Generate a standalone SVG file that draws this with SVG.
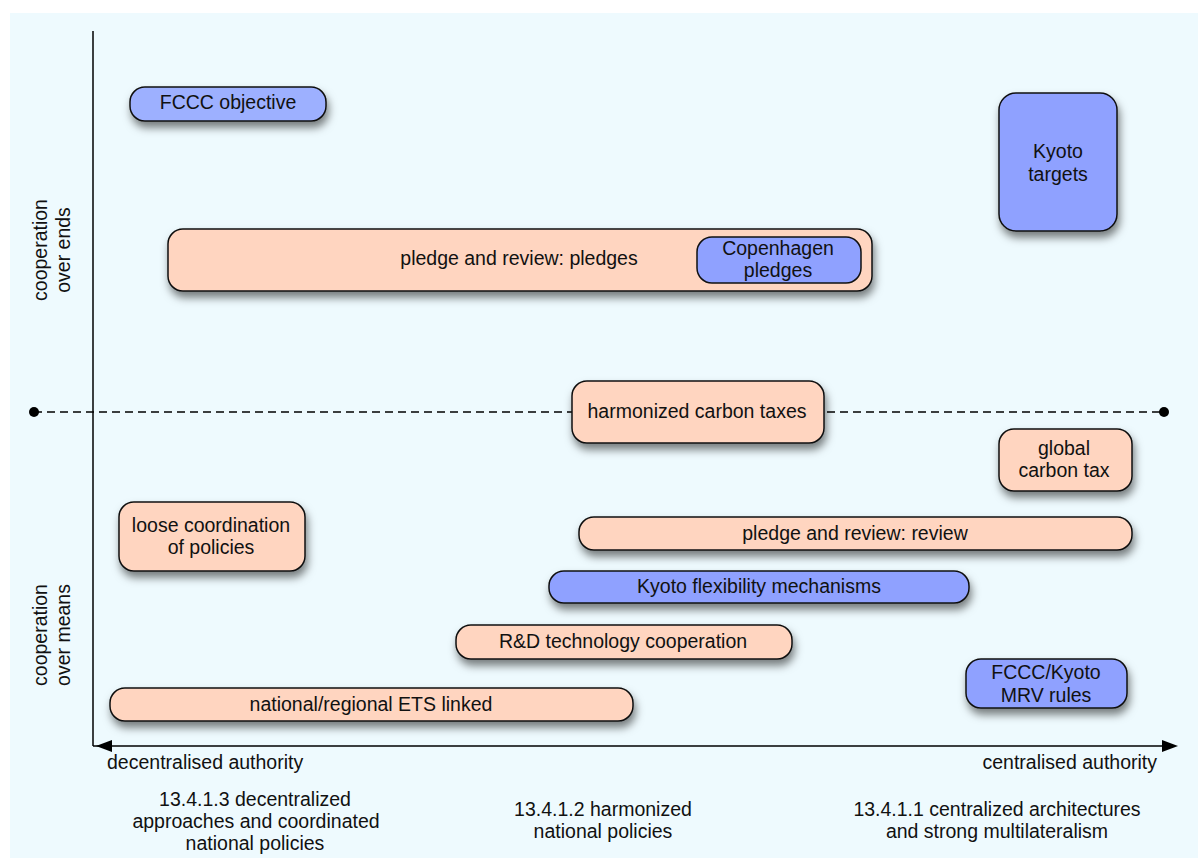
<svg xmlns="http://www.w3.org/2000/svg" width="1198" height="858" viewBox="0 0 1198 858">
<defs>
<filter id="sh" x="-20%" y="-40%" width="140%" height="200%">
<feDropShadow dx="2" dy="6" stdDeviation="4.5" flood-color="#000" flood-opacity="0.5"/>
</filter>
</defs>
<style>
text{font-family:"Liberation Sans",Arial,sans-serif;font-size:19.5px;fill:#111;}
.c{text-anchor:middle;}
.node{stroke:#111;stroke-width:1.5;filter:url(#sh);}
.salmon{fill:#FFD5C0;}
.blue{fill:#8FA1FF;}
.lblue{fill:#9DB0FF;}
.axis{stroke:#000;stroke-width:1.5;fill:none;}
</style>
<rect x="10" y="13" width="1188" height="845" fill="#EEFAFE"/>
<g id="connectors">
<line class="axis" x1="93" y1="31" x2="93" y2="746"/>
<line class="axis" x1="93" y1="746" x2="1170" y2="746"/>
<path d="M112,740 L96,746 L112,752 z" fill="#000"/>
<path d="M1162,740 L1178,746 L1162,752 z" fill="#000"/>
<line x1="34" y1="412" x2="1164" y2="412" stroke="#000" stroke-width="1.5" stroke-dasharray="8,5"/>
<circle cx="34" cy="412" r="5" fill="#000"/>
<circle cx="1164" cy="412" r="5" fill="#000"/>
</g>
<g id="axis-labels">
<text transform="translate(47,250) rotate(-90)" class="c">cooperation</text>
<text transform="translate(70,250) rotate(-90)" class="c">over ends</text>
<text transform="translate(47,635) rotate(-90)" class="c">cooperation</text>
<text transform="translate(70,635) rotate(-90)" class="c">over means</text>
<text x="107" y="769">decentralised authority</text>
<text x="1157" y="769" text-anchor="end">centralised authority</text>
<text x="255" y="806" class="c">13.4.1.3 decentralized</text>
<text x="256" y="828" class="c">approaches and coordinated</text>
<text x="255" y="850" class="c">national policies</text>
<text x="603" y="816" class="c">13.4.1.2 harmonized</text>
<text x="603" y="838" class="c">national policies</text>
<text x="997" y="816" class="c">13.4.1.1 centralized architectures</text>
<text x="997" y="838" class="c">and strong multilateralism</text>
</g>
<g id="fccc-objective">
<rect class="node lblue" x="130" y="87" width="196" height="34" rx="15"/>
<text x="228" y="109" class="c">FCCC objective</text>
</g>
<g id="kyoto-targets">
<rect class="node blue" x="999" y="93" width="118" height="138" rx="17"/>
<text x="1058" y="158" class="c">Kyoto</text>
<text x="1058" y="181" class="c">targets</text>
</g>
<g id="pledge-review-pledges">
<rect class="node salmon" x="168" y="229" width="704" height="62" rx="15"/>
<text x="519" y="265" class="c">pledge and review: pledges</text>
</g>
<g id="copenhagen-pledges">
<rect class="blue" x="697" y="237" width="164" height="46" rx="15" stroke="#111" stroke-width="1.5"/>
<text x="778" y="255" class="c">Copenhagen</text>
<text x="778" y="277" class="c">pledges</text>
</g>
<g id="harmonized-carbon-taxes">
<rect class="node salmon" x="572" y="381" width="252" height="62" rx="15"/>
<text x="697" y="418" class="c">harmonized carbon taxes</text>
</g>
<g id="global-carbon-tax">
<rect class="node salmon" x="999" y="429" width="133" height="62" rx="15"/>
<text x="1064" y="455" class="c">global</text>
<text x="1064" y="477" class="c">carbon tax</text>
</g>
<g id="loose-coordination">
<rect class="node salmon" x="119" y="502" width="186" height="69" rx="15"/>
<text x="211" y="532" class="c">loose coordination</text>
<text x="211" y="554" class="c">of policies</text>
</g>
<g id="pledge-review-review">
<rect class="node salmon" x="579" y="517" width="553" height="33" rx="15"/>
<text x="855" y="540" class="c">pledge and review: review</text>
</g>
<g id="kyoto-flexibility">
<rect class="node blue" x="549" y="571" width="420" height="32" rx="15"/>
<text x="759" y="593" class="c">Kyoto flexibility mechanisms</text>
</g>
<g id="rd-cooperation">
<rect class="node salmon" x="456" y="625" width="336" height="34" rx="15"/>
<text x="623" y="648" class="c">R&amp;D technology cooperation</text>
</g>
<g id="mrv-rules">
<rect class="node blue" x="966" y="659" width="161" height="49" rx="15"/>
<text x="1046" y="679" class="c">FCCC/Kyoto</text>
<text x="1046" y="702" class="c">MRV rules</text>
</g>
<g id="ets-linked">
<rect class="node salmon" x="110" y="688" width="523" height="33" rx="15"/>
<text x="371" y="711" class="c">national/regional ETS linked</text>
</g>
</svg>
